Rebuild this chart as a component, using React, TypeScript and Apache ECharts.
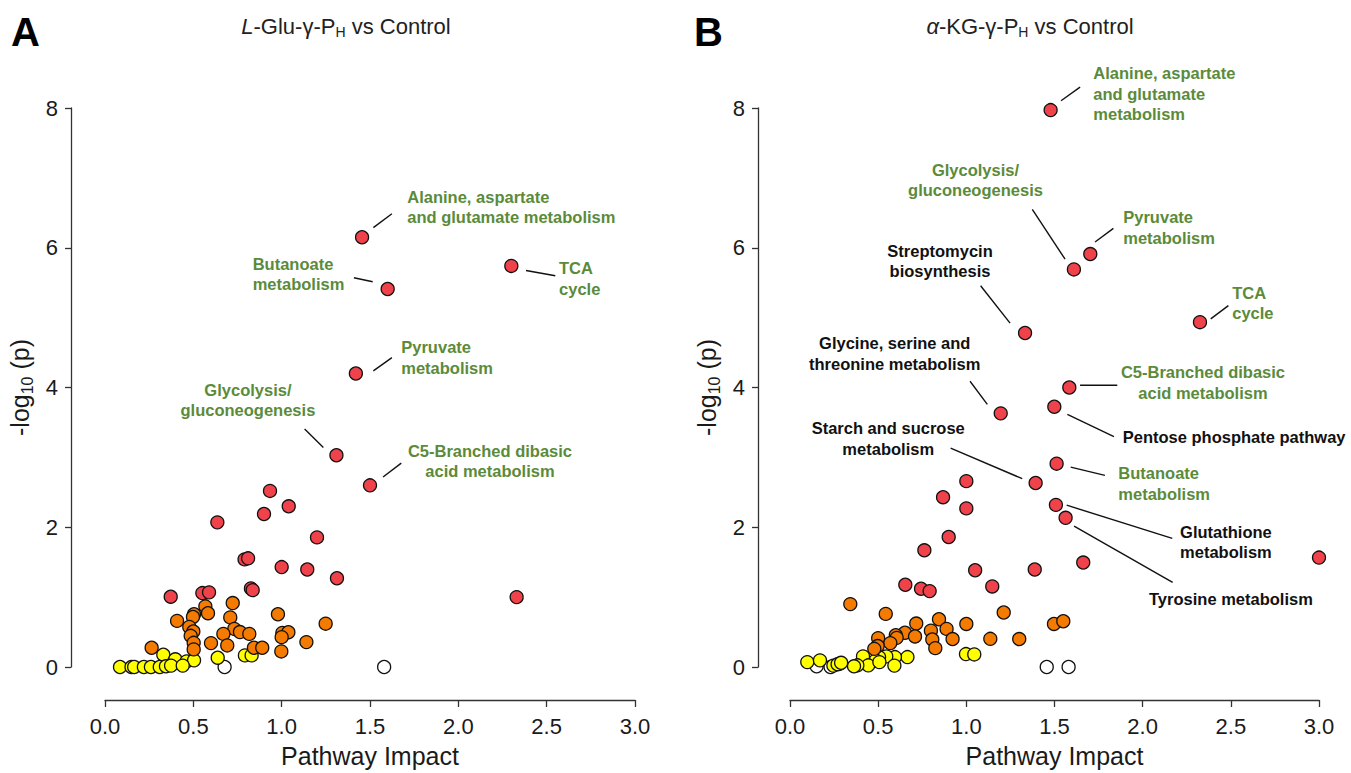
import React, { useEffect, useRef } from "react";
import * as echarts from "echarts";

// ---------- data: panel A (L-Glu-γ-PH vs Control) ----------
const X_TICKS = [0, 0.5, 1, 1.5, 2, 2.5, 3];
const Y_TICKS = [0, 2, 4, 6, 8];

const A_RED: number[][] = [
  [1.455, 6.15], [1.6, 5.41], [2.3, 5.74], [1.42, 4.2], [1.31, 3.03], [1.5, 2.6], [2.33, 1.0],
  [0.934, 2.52], [1.04, 2.3], [0.9, 2.19], [0.636, 2.07], [1.2, 1.855], [0.79, 1.54], [0.81, 1.555],
  [1.0, 1.43], [1.145, 1.395], [1.313, 1.27], [0.826, 1.125], [0.836, 1.1], [0.372, 1.006],
  [0.551, 1.058], [0.589, 1.068],
];
const A_ORANGE: number[][] = [
  [0.723, 0.915], [0.568, 0.868], [0.583, 0.77], [0.504, 0.755], [0.498, 0.716], [0.408, 0.66],
  [0.709, 0.71], [0.979, 0.755], [1.249, 0.62], [0.477, 0.574], [0.5, 0.508], [0.732, 0.545],
  [0.764, 0.5], [0.817, 0.474], [0.67, 0.474], [0.485, 0.446], [1.004, 0.488], [1.038, 0.498],
  [1.0, 0.427], [0.502, 0.346], [0.6, 0.342], [0.692, 0.309], [1.14, 0.356], [0.502, 0.252],
  [0.264, 0.275], [0.843, 0.275], [0.89, 0.275], [0.998, 0.223],
];
const A_YELLOW: number[][] = [
  [0.33, 0.175], [0.398, 0.11], [0.462, 0.08], [0.504, 0.095], [0.638, 0.133], [0.792, 0.166],
  [0.83, 0.166], [0.085, 0.0], [0.15, 0.0], [0.165, 0.0], [0.22, 0.0], [0.26, 0.0], [0.31, 0.0],
  [0.345, 0.01], [0.374, 0.02], [0.44, 0.02],
];
const A_WHITE: number[][] = [[0.677, 0], [1.58, 0]];

// ---------- data: panel B (α-KG-γ-PH vs Control) ----------
const B_RED: number[][] = [
  [1.478, 7.97], [1.703, 5.91], [1.61, 5.69], [2.325, 4.935], [1.333, 4.78], [1.584, 4.0],
  [1.195, 3.63], [1.499, 3.725], [1.512, 2.91], [1.393, 2.633], [1.508, 2.32], [1.563, 2.135],
  [3.0, 1.566], [1.663, 1.495], [1.0, 2.66], [0.868, 2.43], [1.0, 2.27], [0.9, 1.86], [0.762, 1.67],
  [1.05, 1.385], [1.388, 1.395], [0.654, 1.177], [0.743, 1.12], [0.792, 1.086], [1.147, 1.153],
];
const B_ORANGE: number[][] = [
  [0.342, 0.9], [0.543, 0.76], [1.212, 0.78], [1.497, 0.616], [1.55, 0.655], [0.845, 0.683],
  [0.716, 0.622], [1.0, 0.616], [0.799, 0.52], [0.888, 0.545], [0.652, 0.49], [0.6, 0.455],
  [0.605, 0.417], [0.709, 0.437], [0.807, 0.394], [0.922, 0.4], [1.136, 0.403], [1.3, 0.4],
  [0.5, 0.413], [0.569, 0.342], [0.824, 0.27], [0.497, 0.3], [0.478, 0.26],
];
const B_YELLOW: number[][] = [
  [0.998, 0.185], [1.045, 0.18], [0.666, 0.142], [0.595, 0.142], [0.546, 0.152], [0.505, 0.142],
  [0.486, 0.095], [0.414, 0.152], [0.444, 0.024], [0.382, 0.024], [0.363, 0.01], [0.507, 0.07],
  [0.592, 0.02], [0.098, 0.07], [0.17, 0.095], [0.246, 0.02], [0.28, 0.047], [0.27, 0.04], [0.29, 0.06],
];
const B_WHITE: number[][] = [[0.151, 0.01], [0.23, 0.0], [1.456, 0], [1.58, 0]];

// ---------- annotations (anchor and leader ends in data units) ----------
type Ann = { text: string; at: number[]; align: string; green: boolean; leader: number[][] };
const A_LABELS: Ann[] = [
  { text: "Alanine, aspartate\nand glutamate metabolism", at: [1.711, 6.584], align: "left", green: true, leader: [[1.519, 6.288], [1.624, 6.487]] },
  { text: "Butanoate\nmetabolism", at: [0.836, 5.627], align: "left", green: true, leader: [[1.409, 5.57], [1.515, 5.513]] },
  { text: "TCA\ncycle", at: [2.57, 5.559], align: "left", green: true, leader: [[2.383, 5.675], [2.549, 5.599]] },
  { text: "Pyruvate\nmetabolism", at: [1.677, 4.431], align: "left", green: true, leader: [[1.519, 4.238], [1.624, 4.427]] },
  { text: "Glycolysis/\ngluconeogenesis", at: [0.809, 3.822], align: "center", green: true, leader: [[1.13, 3.406], [1.236, 3.142]] },
  { text: "C5-Branched dibasic\nacid metabolism", at: [2.179, 2.947], align: "center", green: true, leader: [[1.574, 2.719], [1.677, 2.918]] },
];
const B_LABELS: Ann[] = [
  { text: "Alanine, aspartate\nand glutamate\nmetabolism", at: [1.72, 8.206], align: "left", green: true, leader: [[1.537, 8.104], [1.645, 8.299]] },
  { text: "Glycolysis/\ngluconeogenesis", at: [1.052, 6.969], align: "center", green: true, leader: [[1.374, 6.548], [1.56, 5.836]] },
  { text: "Pyruvate\nmetabolism", at: [1.89, 6.288], align: "left", green: true, leader: [[1.73, 6.083], [1.834, 6.278]] },
  { text: "Streptomycin\nbiosynthesis", at: [0.851, 5.812], align: "center", green: false, leader: [[1.081, 5.456], [1.248, 4.921]] },
  { text: "TCA\ncycle", at: [2.508, 5.207], align: "left", green: true, leader: [[2.386, 4.982], [2.486, 5.171]] },
  { text: "Glycine, serine and\nthreonine metabolism", at: [0.594, 4.484], align: "center", green: false, leader: [[1.021, 4.09], [1.119, 3.758]] },
  { text: "C5-Branched dibasic\nacid metabolism", at: [2.342, 4.068], align: "center", green: true, leader: [[1.645, 4.033], [1.856, 4.033]] },
  { text: "Pentose phosphate pathway", at: [1.887, 3.298], align: "left", green: false, leader: [[1.573, 3.616], [1.837, 3.298]] },
  { text: "Starch and sucrose\nmetabolism", at: [0.557, 3.268], align: "center", green: false, leader: [[0.911, 3.132], [1.317, 2.695]] },
  { text: "Butanoate\nmetabolism", at: [1.862, 2.623], align: "left", green: true, leader: [[1.592, 2.861], [1.786, 2.743]] },
  { text: "Glutathione\nmetabolism", at: [2.212, 1.786], align: "left", green: false, leader: [[1.569, 2.316], [2.168, 1.841]] },
  { text: "Tyrosine metabolism", at: [2.036, 0.972], align: "left", green: false, leader: [[1.611, 2.017], [2.17, 1.21]] },
];

const FONT = "'Liberation Sans', Arial, Helvetica, sans-serif";
const RED = "#F0424A";
const ORANGE = "#F47A00";
const YELLOW = "#FFFF00";
const WHITE = "#FFFFFF";
const GREEN = "#5B8B3A";
const INK = "#1a1a1a";

function scatter(data: number[][], color: string, gi: number) {
  return {
    type: "scatter",
    xAxisIndex: gi,
    yAxisIndex: gi,
    data,
    symbol: "circle",
    symbolSize: 13,
    silent: true,
    itemStyle: { color, borderColor: "#111", borderWidth: 1.3, opacity: 1 },
    emphasis: { disabled: true },
    z: 3,
  };
}

function xAxis(gi: number) {
  return {
    type: "value",
    gridIndex: gi,
    min: 0,
    max: 3,
    interval: 0.5,
    offset: 33,
    name: "Pathway Impact",
    nameLocation: "middle",
    nameGap: 43,
    nameTextStyle: { fontFamily: FONT, fontSize: 25, color: INK },
    axisLine: { show: true, onZero: false, lineStyle: { color: "#333", width: 1.3 } },
    axisTick: { show: true, length: 7, lineStyle: { color: "#333", width: 1.3 } },
    axisLabel: {
      fontFamily: FONT, fontSize: 22, color: INK, margin: 15,
      formatter: (v: number) => v.toFixed(1),
      customValues: X_TICKS,
    },
    splitLine: { show: false },
  };
}

function yAxis(gi: number, offset: number) {
  return {
    type: "value",
    gridIndex: gi,
    min: 0,
    max: 8,
    interval: 2,
    offset,
    name: "-log{s|10} (p)",
    nameLocation: "middle",
    nameGap: 36,
    nameTextStyle: {
      fontFamily: FONT, fontSize: 25, color: INK, lineHeight: 30,
      rich: { s: { fontFamily: FONT, fontSize: 16, color: INK, lineHeight: 14, verticalAlign: "bottom" } },
    },
    axisLine: { show: true, onZero: false, lineStyle: { color: "#333", width: 1.3 } },
    axisTick: { show: true, length: 6, lineStyle: { color: "#333", width: 1.3 } },
    axisLabel: { fontFamily: FONT, fontSize: 22, color: INK, margin: 13, customValues: Y_TICKS },
    splitLine: { show: false },
  };
}

function titleRich() {
  return {
    n: { fontFamily: FONT, fontSize: 22, lineHeight: 26, fill: "#222" },
    it: { fontFamily: FONT, fontSize: 22, lineHeight: 26, fill: "#222", fontStyle: "italic" },
    sub: { fontFamily: FONT, fontSize: 14, lineHeight: 12, fill: "#222", verticalAlign: "bottom" },
  };
}

export default function App() {
  const ref = useRef<HTMLDivElement>(null);
  useEffect(() => {
    if (!ref.current) return;
    const chart = echarts.init(ref.current, undefined, { renderer: "svg" });
    chart.setOption({
      animation: false,
      backgroundColor: "#ffffff",
      grid: [
        { left: 105, top: 108, width: 530, height: 562 },
        { left: 790, top: 108, width: 529, height: 562 },
      ],
      xAxis: [xAxis(0), xAxis(1)],
      yAxis: [yAxis(0, 34), yAxis(1, 32)],
      series: [
        scatter(A_WHITE, WHITE, 0),
        scatter(A_YELLOW, YELLOW, 0),
        scatter(A_ORANGE, ORANGE, 0),
        scatter(A_RED, RED, 0),
        scatter(B_WHITE, WHITE, 1),
        scatter(B_YELLOW, YELLOW, 1),
        scatter(B_ORANGE, ORANGE, 1),
        scatter(B_RED, RED, 1),
      ],
    });

    const graphics: any[] = [];
    const addLabels = (labels: Ann[], gi: number) => {
      labels.forEach((a) => {
        const p = chart.convertToPixel({ gridIndex: gi }, a.at) as number[];
        const l0 = chart.convertToPixel({ gridIndex: gi }, a.leader[0]) as number[];
        const l1 = chart.convertToPixel({ gridIndex: gi }, a.leader[1]) as number[];
        graphics.push({
          type: "line",
          shape: { x1: l0[0], y1: l0[1], x2: l1[0], y2: l1[1] },
          style: { stroke: "#111", lineWidth: 1.4 },
          z: 10,
        });
        graphics.push({
          type: "text",
          x: p[0],
          y: p[1],
          z: 10,
          style: {
            text: a.text,
            fill: a.green ? GREEN : "#111",
            fontFamily: FONT,
            fontSize: 16.5,
            fontWeight: "bold",
            lineHeight: 20.5,
            align: a.align,
            verticalAlign: "middle",
          },
        });
      });
    };
    addLabels(A_LABELS, 0);
    addLabels(B_LABELS, 1);

    graphics.push({
      type: "text", x: 11, y: 32, z: 10,
      style: { text: "A", fill: "#000", fontFamily: FONT, fontSize: 40, fontWeight: "bold", align: "left", verticalAlign: "middle" },
    });
    graphics.push({
      type: "text", x: 694, y: 32, z: 10,
      style: { text: "B", fill: "#000", fontFamily: FONT, fontSize: 40, fontWeight: "bold", align: "left", verticalAlign: "middle" },
    });
    graphics.push({
      type: "text", x: 346, y: 26, z: 10,
      style: { text: "{it|L}{n|-Glu-γ-P}{sub|H}{n| vs Control}", rich: titleRich(), align: "center", verticalAlign: "middle" },
    });
    graphics.push({
      type: "text", x: 1030, y: 26, z: 10,
      style: { text: "{it|α}{n|-KG-γ-P}{sub|H}{n| vs Control}", rich: titleRich(), align: "center", verticalAlign: "middle" },
    });

    chart.setOption({ graphic: graphics });
    return () => chart.dispose();
  }, []);

  return (
    <div
      ref={ref}
      style={{ position: "absolute", left: 0, top: 0, width: 1351, height: 773, background: "#fff" }}
    />
  );
}
